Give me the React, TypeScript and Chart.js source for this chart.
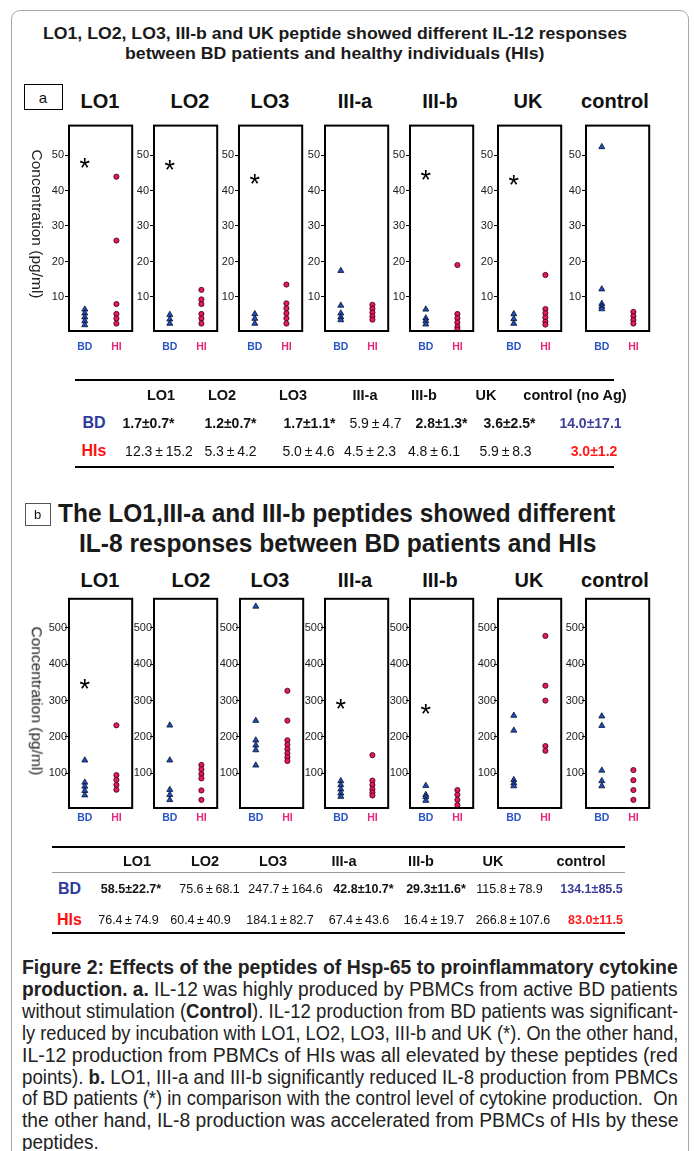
import React, { useEffect, useLayoutEffect, useRef, useState } from 'react';
import { Chart, registerables } from 'chart.js';

Chart.register(...registerables);

const FONT = '"Liberation Sans", Arial, Helvetica, sans-serif';

// ---------- data ----------
const peptides = ['LO1', 'LO2', 'LO3', 'III-a', 'III-b', 'UK', 'control'];
const groups = ['BD', 'HI'];

const il12Ticks = [10, 20, 30, 40, 50];
const il8Ticks = [100, 200, 300, 400, 500];

// IL-12 (pg/ml), BD patients (triangles) per peptide
const il12BD = [
  [6.5, 5.4, 4.3, 3.2, 2.1],
  [5.0, 3.7, 2.5],
  [5.2, 3.9, 2.5],
  [17.4, 7.6, 5.4, 4.3, 3.5],
  [6.5, 4.0, 3.2, 2.3],
  [5.2, 3.8, 2.5],
  [52.3, 12.2, 8.1, 7.3, 6.6],
];
// IL-12 (pg/ml), healthy individuals (circles)
const il12HI = [
  [43.9, 25.9, 8.0, 5.2, 3.9, 2.5],
  [12.0, 9.3, 8.0, 5.2, 3.9, 2.5],
  [13.5, 8.2, 6.8, 5.4, 4.0, 2.5],
  [7.8, 6.7, 5.6, 4.5, 3.6],
  [19.0, 5.2, 4.0, 2.8, 1.6, 0.8],
  [16.2, 6.6, 5.4, 4.2, 3.0, 2.2],
  [5.8, 4.6, 3.5, 2.5],
];
const il12Star = [48.2, 47.7, 43.6, null, 44.9, 43.5, null];

// IL-8 (pg/ml)
const il8BD = [
  [136, 75, 64, 52, 40],
  [232, 136, 55, 41, 27],
  [559, 245, 191, 177, 164, 122],
  [79, 68, 56, 45, 36],
  [66, 41, 35, 25],
  [259, 218, 82, 73, 65],
  [257, 231, 108, 79, 65],
];
const il8HI = [
  [232, 95, 82, 68, 55],
  [123, 111, 98, 86, 53, 27],
  [327, 245, 191, 179, 167, 155, 144, 134],
  [150, 80, 68, 56, 47, 39],
  [54, 41, 27, 13],
  [478, 341, 300, 175, 162],
  [109, 81, 54, 27],
];
const il8Star = [350, null, null, 295, 282, null, null];

// tables
const tableAHeader = ['LO1', 'LO2', 'LO3', 'III-a', 'III-b', 'UK', 'control (no Ag)'];
const tableABD = ['1.7±0.7*', '1.2±0.7*', '1.7±1.1*', '5.9±4.7', '2.8±1.3*', '3.6±2.5*', '14.0±17.1'];
const tableAHI = ['12.3±15.2', '5.3±4.2', '5.0±4.6', '4.5±2.3', '4.8±6.1', '5.9±8.3', '3.0±1.2'];
const tableBHeader = ['LO1', 'LO2', 'LO3', 'III-a', 'III-b', 'UK', 'control'];
const tableBBD = ['58.5±22.7*', '75.6±68.1', '247.7±164.6', '42.8±10.7*', '29.3±11.6*', '115.8±78.9', '134.1±85.5'];
const tableBHI = ['76.4±74.9', '60.4±40.9', '184.1±82.7', '67.4±43.6', '16.4±19.7', '266.8±107.6', '83.0±11.5'];

const captionLines: [string, boolean][][] = [
  [['Figure 2: Effects of the peptides of Hsp-65 to proinflammatory cytokine', true]],
  [['production. a.', true], [' IL-12 was highly produced by PBMCs from active BD patients', false]],
  [['without stimulation (', false], ['Control', true], ['). IL-12 production from BD patients was significant-', false]],
  [['ly reduced by incubation with LO1, LO2, LO3, III-b and UK (*). On the other hand,', false]],
  [['IL-12 production from PBMCs of HIs was all elevated by these peptides (red', false]],
  [['points). ', false], ['b.', true], [' LO1, III-a and III-b significantly reduced IL-8 production from PBMCs', false]],
  [['of BD patients (*) in comparison with the control level of cytokine production.  On', false]],
  [['the other hand, IL-8 production was accelerated from PBMCs of HIs by these', false]],
  [['peptides.', false]],
];

// ---------- styles / layout ----------
const BD_COLOR = '#2a55c5';
const HI_COLOR = '#e8267c';
const BOX_W = 65;
const Y_W = 26;
const PAD_R = 3;
const PAD_T = 3;
const X_H = 30;

const boxLeftsA = [69, 154, 239, 325, 410, 498, 586];
const boxLeftsB = [69, 154, 240, 325, 410, 498, 586];
const titleXA = [100, 190, 270, 355, 440, 528, 615];
const titleXB = [100, 191, 270, 355, 440, 529, 615];

const boxStarPlugin = {
  id: 'boxStar',
  afterDatasetsDraw(chart: any, _args: any, opts: any) {
    const { ctx, chartArea: a, scales } = chart;
    ctx.save();
    ctx.strokeStyle = '#000';
    ctx.lineWidth = 2;
    ctx.strokeRect(a.left, a.top, a.right - a.left, a.bottom - a.top);
    if (opts && opts.star != null) {
      const x = scales.x.getPixelForValue(0);
      const y = scales.y.getPixelForValue(opts.star);
      const fs = 27;
      ctx.fillStyle = '#000';
      ctx.font = `${fs}px ${FONT}`;
      ctx.textAlign = 'center';
      ctx.textBaseline = 'alphabetic';
      ctx.fillText('*', x, y + 0.58 * fs);
    }
    ctx.restore();
  },
};

type SubProps = {
  left: number;
  top: number;
  h: number;
  bd: number[];
  hi: number[];
  star: number | null;
  ticks: number[];
  min: number;
  max: number;
  tickFont: number;
  tickPad: number;
  catPad: number;
};

function SubPlot(p: SubProps) {
  const ref = useRef<HTMLCanvasElement>(null);
  const W = Y_W + BOX_W + PAD_R;
  const H = PAD_T + p.h + X_H;
  useEffect(() => {
    const chart = new Chart(ref.current as HTMLCanvasElement, {
      type: 'line',
      data: {
        labels: groups,
        datasets: [
          {
            data: p.bd.map((v) => ({ x: groups[0], y: v })) as any,
            showLine: false,
            pointStyle: 'triangle',
            pointRadius: 3.5,
            pointBackgroundColor: '#1f4db5',
            pointBorderColor: '#0b1030',
            pointBorderWidth: 0.8,
          },
          {
            data: p.hi.map((v) => ({ x: groups[1], y: v })) as any,
            showLine: false,
            pointStyle: 'circle',
            pointRadius: 2.6,
            pointBackgroundColor: '#e5195f',
            pointBorderColor: '#3a0010',
            pointBorderWidth: 0.8,
          },
        ],
      },
      options: {
        responsive: false,
        animation: false,
        events: [],
        layout: { padding: { left: 0, right: PAD_R, top: PAD_T, bottom: 0 } },
        plugins: {
          legend: { display: false },
          tooltip: { enabled: false },
          boxStar: { star: p.star },
        } as any,
        scales: {
          x: {
            type: 'category',
            offset: true,
            grid: { display: false, drawTicks: false },
            border: { display: false },
            ticks: {
              padding: p.catPad,
              color: (c: any) => (c.index === 0 ? BD_COLOR : HI_COLOR),
              font: { family: FONT, size: 10.5, weight: 'bold' },
              autoSkip: false,
              maxRotation: 0,
            },
            afterFit: (s: any) => {
              s.height = X_H;
            },
          },
          y: {
            type: 'linear',
            min: p.min,
            max: p.max,
            grid: { display: true, drawOnChartArea: false, drawTicks: true, tickLength: 4, color: '#000', lineWidth: 1 },
            border: { display: false },
            ticks: {
              padding: p.tickPad,
              color: '#222',
              font: { family: FONT, size: p.tickFont },
              autoSkip: false,
            },
            afterBuildTicks: (s: any) => {
              s.ticks = p.ticks.map((v) => ({ value: v }));
            },
            afterFit: (s: any) => {
              s.width = Y_W;
            },
          },
        },
      } as any,
      plugins: [boxStarPlugin as any],
    });
    return () => chart.destroy();
  }, []);
  return (
    <canvas
      ref={ref}
      width={W}
      height={H}
      style={{ position: 'absolute', left: p.left - Y_W, top: p.top - PAD_T, width: W, height: H }}
    />
  );
}

function Cell(props: { x: number; y: number; text: string; size: number; bold?: boolean; color?: string }) {
  return (
    <span
      style={{
        position: 'absolute',
        left: props.x,
        top: props.y,
        transform: 'translate(-50%, -50%)',
        whiteSpace: 'nowrap',
        fontSize: props.size,
        fontWeight: props.bold ? 'bold' : 'normal',
        color: props.color || '#111',
        lineHeight: 1,
      }}
    >
      {props.text}
    </span>
  );
}

function FitText(props: { x: number; y: number; w: number; size: number; bold?: boolean; text: string }) {
  const ref = useRef<HTMLSpanElement>(null);
  const [s, setS] = useState(1);
  useLayoutEffect(() => {
    const el = ref.current;
    if (el && el.offsetWidth > 0) setS(props.w / el.offsetWidth);
  }, [props.w]);
  return (
    <span
      ref={ref}
      style={{
        position: 'absolute',
        left: props.x - props.w / 2,
        top: props.y,
        whiteSpace: 'nowrap',
        fontSize: props.size,
        fontWeight: props.bold ? 'bold' : 'normal',
        lineHeight: 1,
        color: '#1a1a1a',
        transformOrigin: '0 50%',
        transform: `translateY(-50%) scaleX(${s})`,
      }}
    >
      {props.text}
    </span>
  );
}

const CAP_X = 22;
const CAP_W = 656;
const CAP_Y0 = 967;
const CAP_DY = 21.9;

function Caption() {
  const refs = useRef<(HTMLDivElement | null)[]>([]);
  const [scales, setScales] = useState<number[]>(captionLines.map(() => 1));
  useLayoutEffect(() => {
    const nat = refs.current.map((el) => (el ? el.offsetWidth : 1));
    const n = captionLines.length;
    const s = nat.map((w) => CAP_W / w);
    let sum = 0;
    for (let i = 0; i < n - 1; i++) sum += s[i];
    s[n - 1] = sum / (n - 1);
    setScales(s);
  }, []);
  return (
    <>
      {captionLines.map((segs, i) => (
        <div
          key={i}
          ref={(el) => {
            refs.current[i] = el;
          }}
          style={{
            position: 'absolute',
            left: CAP_X,
            top: CAP_Y0 + i * CAP_DY,
            whiteSpace: 'pre',
            fontSize: 19.5,
            lineHeight: '21px',
            color: '#222',
            transformOrigin: '0 50%',
            transform: `translateY(-50%) scaleX(${scales[i]})`,
          }}
        >
          {segs.map(([t, b], j) => (
            <span key={j} style={{ fontWeight: b ? 'bold' : 'normal' }}>
              {t}
            </span>
          ))}
        </div>
      ))}
    </>
  );
}

function fmtVal(v: string, bold: boolean) {
  return bold ? v : v.replace('±', '\u2009±\u2009');
}

function Panel(props: {
  boxLefts: number[];
  titleX: number[];
  titleY: number;
  boxTop: number;
  boxH: number;
  bd: number[][];
  hi: number[][];
  star: (number | null)[];
  ticks: number[];
  min: number;
  max: number;
  tickFont: number;
  tickPad: number;
  catPad: number;
  axisY: number;
}) {
  return (
    <>
      {peptides.map((name, i) => (
        <Cell key={'t' + i} x={props.titleX[i]} y={props.titleY} text={name} size={20} bold color="#111" />
      ))}
      {peptides.map((name, i) => (
        <SubPlot
          key={'p' + name}
          left={props.boxLefts[i]}
          top={props.boxTop}
          h={props.boxH}
          bd={props.bd[i]}
          hi={props.hi[i]}
          star={props.star[i]}
          ticks={props.ticks}
          min={props.min}
          max={props.max}
          tickFont={props.tickFont}
          tickPad={props.tickPad}
          catPad={props.catPad}
        />
      ))}
      <span
        style={{
          position: 'absolute',
          left: 37,
          top: props.axisY,
          transform: 'translate(-50%, -50%) rotate(90deg)',
          whiteSpace: 'nowrap',
          fontSize: 15.5,
          lineHeight: 1,
          color: '#222',
        }}
      >
        Concentration (pg/ml)
      </span>
    </>
  );
}

function Rule(props: { x: number; y: number; w: number; h: number; color?: string }) {
  return (
    <div
      style={{
        position: 'absolute',
        left: props.x,
        top: props.y,
        width: props.w,
        height: props.h,
        background: props.color || '#000',
      }}
    />
  );
}

const tAHeadX = [161, 222, 293, 365, 424, 486, 575];
const tABDX = [148.5, 230.5, 309.5, 375.5, 441.5, 509.5, 590.5];
const tAHIX = [159, 230.5, 308.5, 370, 434, 505.5, 594];
const tBHeadX = [137, 205, 273, 344, 421, 493, 581];
const tBBDX = [131, 209.5, 285.5, 363.5, 436, 509.5, 591.5];
const tBHIX = [128.5, 200.5, 280, 359, 434, 513, 595.5];

export default function App() {
  const last = 6;
  return (
    <div
      style={{
        position: 'absolute',
        left: 0,
        top: 0,
        width: 694,
        height: 1151,
        overflow: 'hidden',
        background: '#fff',
        fontFamily: FONT,
        color: '#111',
      }}
    >
      <div
        style={{
          position: 'absolute',
          left: 11,
          top: 10,
          width: 676,
          height: 1200,
          border: '1px solid #a8a8a8',
          borderRadius: 9,
        }}
      />
      <FitText x={335} y={33} w={584} size={17} bold text="LO1, LO2, LO3, III-b and UK peptide showed different IL-12 responses" />
      <FitText x={334.5} y={53} w={419} size={17} bold text="between BD patients and healthy individuals (HIs)" />

      {/* panel a */}
      <div style={{ position: 'absolute', left: 24, top: 84, width: 37, height: 24, border: '1px solid #000' }} />
      <Cell x={43} y={96.5} text="a" size={15} />
      <Panel
        boxLefts={boxLeftsA}
        titleX={titleXA}
        titleY={101}
        boxTop={121}
        boxH={210}
        bd={il12BD}
        hi={il12HI}
        star={il12Star}
        ticks={il12Ticks}
        min={0.4}
        max={58.3}
        tickFont={11}
        tickPad={1}
        catPad={10}
        axisY={224}
      />

      {/* table a */}
      <Rule x={75} y={379} w={539} h={2} />
      <Rule x={75} y={466} w={539} h={2} />
      {tableAHeader.map((t, i) => (
        <Cell key={'ah' + i} x={tAHeadX[i]} y={395} text={t} size={14.5} bold />
      ))}
      <Cell x={94} y={423} text="BD" size={16} bold color="#2d3a9c" />
      <Cell x={94} y={451} text="HIs" size={16} bold color="#ff1010" />
      {tableABD.map((t, i) => {
        const bold = t.includes('*') || i === last;
        return (
          <Cell key={'ab' + i} x={tABDX[i]} y={423} text={fmtVal(t, bold)} size={14} bold={bold} color={i === last ? '#40409c' : '#111'} />
        );
      })}
      {tableAHI.map((t, i) => {
        const bold = i === last;
        return (
          <Cell key={'ai' + i} x={tAHIX[i]} y={451} text={fmtVal(t, bold)} size={14} bold={bold} color={i === last ? '#ff1a1a' : '#111'} />
        );
      })}

      {/* panel b */}
      <div style={{ position: 'absolute', left: 25, top: 503, width: 24, height: 21, border: '1px solid #555' }} />
      <Cell x={37.5} y={514} text="b" size={13} />
      <FitText x={337} y={513} w={558} size={25} bold text="The LO1,III-a and III-b peptides showed different" />
      <FitText x={338} y={543} w={518} size={25} bold text="IL-8 responses between BD patients and HIs" />
      <Panel
        boxLefts={boxLeftsB}
        titleX={titleXB}
        titleY={580}
        boxTop={597}
        boxH={211}
        bd={il8BD}
        hi={il8HI}
        star={il8Star}
        ticks={il8Ticks}
        min={4.6}
        max={580}
        tickFont={11}
        tickPad={-2}
        catPad={4}
        axisY={701}
      />

      {/* table b */}
      <Rule x={52} y={846} w={573} h={2} />
      <Rule x={52} y={872} w={573} h={1} color="#999" />
      <Rule x={52} y={932} w={573} h={2} />
      {tableBHeader.map((t, i) => (
        <Cell key={'bh' + i} x={tBHeadX[i]} y={861} text={t} size={14.5} bold />
      ))}
      <Cell x={69.5} y={889} text="BD" size={16} bold color="#2d3a9c" />
      <Cell x={69.5} y={920} text="HIs" size={16} bold color="#ff1010" />
      {tableBBD.map((t, i) => {
        const bold = t.includes('*') || i === last;
        return (
          <Cell key={'bb' + i} x={tBBDX[i]} y={889} text={fmtVal(t, bold)} size={12.5} bold={bold} color={i === last ? '#3b3b9b' : '#111'} />
        );
      })}
      {tableBHI.map((t, i) => {
        const bold = i === last;
        return (
          <Cell key={'bi' + i} x={tBHIX[i]} y={920} text={fmtVal(t, bold)} size={12.5} bold={bold} color={i === last ? '#ff1a1a' : '#111'} />
        );
      })}

      <Caption />
    </div>
  );
}
